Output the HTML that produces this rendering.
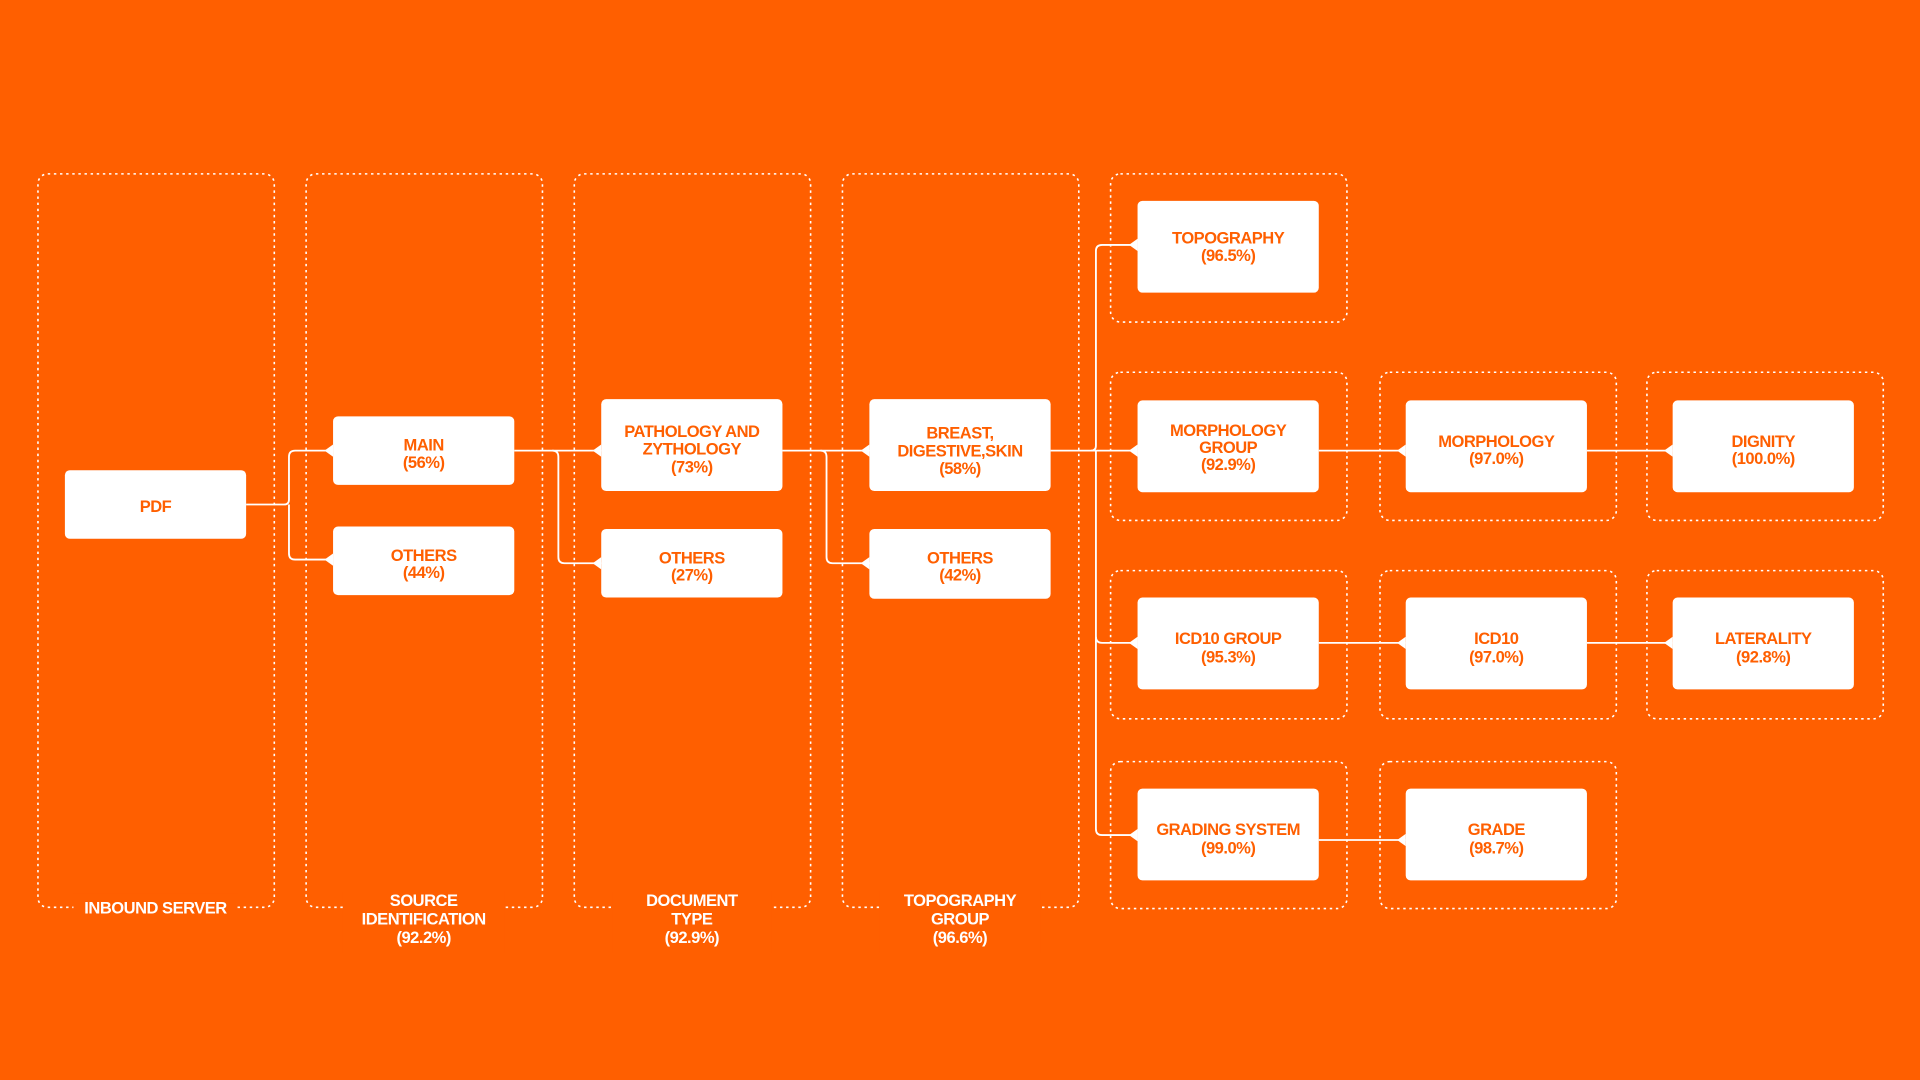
<!DOCTYPE html>
<html><head><meta charset="utf-8"><style>
html,body{margin:0;padding:0;background:#FF5F00;}
svg{display:block}
text{font-family:"Liberation Sans",sans-serif;font-weight:bold;font-size:13.5px;text-anchor:middle;letter-spacing:-0.4px}
.n{fill:#FF5F00}
.w{fill:#fff}
</style></head><body>
<svg width="1920" height="1080" viewBox="0 0 1568 882" xmlns="http://www.w3.org/2000/svg">
<rect width="1568" height="882" fill="#FF5F00"/>
<g fill="none" stroke="#fff" stroke-width="1.3" stroke-dasharray="2 3">
<rect x="31" y="142" width="193" height="599" rx="8"/>
<rect x="250" y="142" width="193" height="599" rx="8"/>
<rect x="469" y="142" width="193" height="599" rx="8"/>
<rect x="688" y="142" width="193" height="599" rx="8"/>
<rect x="907" y="142" width="193" height="121" rx="8"/>
<rect x="907" y="304" width="193" height="121" rx="8"/>
<rect x="1127" y="304" width="193" height="121" rx="8"/>
<rect x="1345" y="304" width="193" height="121" rx="8"/>
<rect x="907" y="466" width="193" height="121" rx="8"/>
<rect x="1127" y="466" width="193" height="121" rx="8"/>
<rect x="1345" y="466" width="193" height="121" rx="8"/>
<rect x="907" y="622" width="193" height="120" rx="8"/>
<rect x="1127" y="622" width="193" height="120" rx="8"/>
</g>
<!-- label backgrounds -->
<g fill="#FF5F00">
<rect x="60" y="730" width="134" height="20"/>
<rect x="280" y="728" width="132" height="50"/>
<rect x="500" y="728" width="130" height="50"/>
<rect x="718" y="728" width="132" height="50"/>
</g>
<g class="w">
<text x="127" y="746" class="w">INBOUND SERVER</text>
<text x="346" y="740" class="w">SOURCE</text><text x="346" y="755" class="w">IDENTIFICATION</text><text x="346" y="770" class="w">(92.2%)</text>
<text x="565" y="740" class="w">DOCUMENT</text><text x="565" y="755" class="w">TYPE</text><text x="565" y="770" class="w">(92.9%)</text>
<text x="784" y="740" class="w">TOPOGRAPHY</text><text x="784" y="755" class="w">GROUP</text><text x="784" y="770" class="w">(96.6%)</text>
</g>
<!-- connectors -->
<g fill="none" stroke="#fff" stroke-width="1.5">
<path d="M201 412 H232 Q236 412 236 408 V373 Q236 368 241 368 H272"/>
<path d="M236 412 V452 Q236 457 241 457 H272"/>
<path d="M420 368 H491"/>
<path d="M451 368 Q456 368 456 373 V455 Q456 460 461 460 H491"/>
<path d="M639 368 H710"/>
<path d="M670 368 Q675 368 675 373 V455 Q675 460 680 460 H710"/>
<path d="M858 368 H929"/>
<path d="M891 368 Q895 368 895 364 V205 Q895 200 900 200 H929"/>
<path d="M895 368 V677 Q895 682 900 682 H929"/>
<path d="M895 520 Q895 525 900 525 H929"/>
<path d="M1077 368 H1148"/><path d="M1296 368 H1366"/>
<path d="M1077 525 H1148"/><path d="M1296 525 H1366"/>
<path d="M1077 686 H1148"/>
</g>
<g fill="#fff">
<polygon points="265,368 272,363 272,373"/><polygon points="265,457 272,452 272,462"/>
<polygon points="484,368 491,363 491,373"/><polygon points="484,460 491,455 491,465"/>
<polygon points="703,368 710,363 710,373"/><polygon points="703,460 710,455 710,465"/>
<polygon points="922,200 929,195 929,205"/><polygon points="922,368 929,363 929,373"/>
<polygon points="922,525 929,520 929,530"/><polygon points="922,682 929,677 929,687"/>
<polygon points="1141,368 1148,363 1148,373"/><polygon points="1359,368 1366,363 1366,373"/>
<polygon points="1141,525 1148,520 1148,530"/><polygon points="1359,525 1366,520 1366,530"/>
<polygon points="1141,686 1148,681 1148,691"/>
</g>
<!-- nodes -->
<g fill="#fff">
<rect x="53" y="384" width="148" height="56" rx="4"/>
<rect x="272" y="340" width="148" height="56" rx="4"/>
<rect x="272" y="430" width="148" height="56" rx="4"/>
<rect x="491" y="326" width="148" height="75" rx="4"/>
<rect x="491" y="432" width="148" height="56" rx="4"/>
<rect x="710" y="326" width="148" height="75" rx="4"/>
<rect x="710" y="432" width="148" height="57" rx="4"/>
<rect x="929" y="164" width="148" height="75" rx="4"/>
<rect x="929" y="327" width="148" height="75" rx="4"/>
<rect x="1148" y="327" width="148" height="75" rx="4"/>
<rect x="1366" y="327" width="148" height="75" rx="4"/>
<rect x="929" y="488" width="148" height="75" rx="4"/>
<rect x="1148" y="488" width="148" height="75" rx="4"/>
<rect x="1366" y="488" width="148" height="75" rx="4"/>
<rect x="929" y="644" width="148" height="75" rx="4"/>
<rect x="1148" y="644" width="148" height="75" rx="4"/>
</g>
<g class="n">
<text x="127" y="418" class="n">PDF</text>
<text x="346" y="368" class="n">MAIN</text><text x="346" y="382" class="n">(56%)</text>
<text x="346" y="458" class="n">OTHERS</text><text x="346" y="472" class="n">(44%)</text>
<text x="565" y="357" class="n">PATHOLOGY AND</text><text x="565" y="371" class="n">ZYTHOLOGY</text><text x="565" y="386" class="n">(73%)</text>
<text x="565" y="460" class="n">OTHERS</text><text x="565" y="474" class="n">(27%)</text>
<text x="784" y="358" class="n">BREAST,</text><text x="784" y="373" class="n">DIGESTIVE,SKIN</text><text x="784" y="387" class="n">(58%)</text>
<text x="784" y="460" class="n">OTHERS</text><text x="784" y="474" class="n">(42%)</text>
<text x="1003" y="199" class="n">TOPOGRAPHY</text><text x="1003" y="213" class="n">(96.5%)</text>
<text x="1003" y="356" class="n">MORPHOLOGY</text><text x="1003" y="370" class="n">GROUP</text><text x="1003" y="384" class="n">(92.9%)</text>
<text x="1222" y="365" class="n">MORPHOLOGY</text><text x="1222" y="379" class="n">(97.0%)</text>
<text x="1440" y="365" class="n">DIGNITY</text><text x="1440" y="379" class="n">(100.0%)</text>
<text x="1003" y="526" class="n">ICD10 GROUP</text><text x="1003" y="541" class="n">(95.3%)</text>
<text x="1222" y="526" class="n">ICD10</text><text x="1222" y="541" class="n">(97.0%)</text>
<text x="1440" y="526" class="n">LATERALITY</text><text x="1440" y="541" class="n">(92.8%)</text>
<text x="1003" y="682" class="n">GRADING SYSTEM</text><text x="1003" y="697" class="n">(99.0%)</text>
<text x="1222" y="682" class="n">GRADE</text><text x="1222" y="697" class="n">(98.7%)</text>
</g>
</svg>
</body></html>
